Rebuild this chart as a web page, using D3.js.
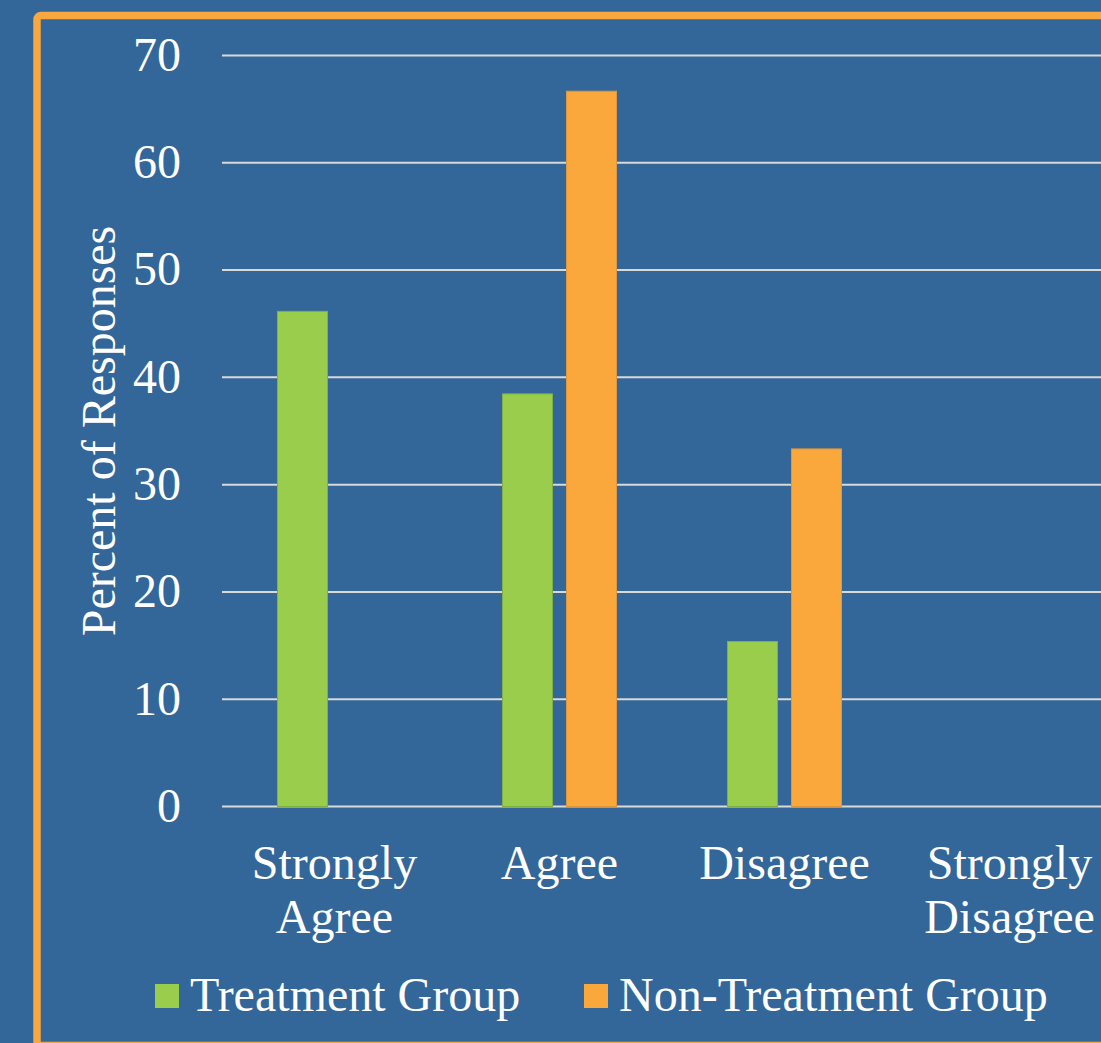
<!DOCTYPE html>
<html>
<head>
<meta charset="utf-8">
<script src="https://cdn.jsdelivr.net/npm/d3@7"></script>
<style>
  html, body { margin: 0; padding: 0; background: #336699; overflow: hidden; }
  svg { display: block; }
  text { font-family: "Liberation Serif", "Times New Roman", serif; fill: #ffffff; }
</style>
</head>
<body>
<svg id="chart" width="1101" height="1043"></svg>
<script>
// Survey responses, percent of each group
const categories = [["Strongly", "Agree"], ["Agree"], ["Disagree"], ["Strongly", "Disagree"]];
const seriesNames = ["Treatment Group", "Non-Treatment Group"];
const treatment = [46.15, 38.46, 15.38, 0];
const nonTreatment = [0, 66.67, 33.33, 0];
const yTicks = [0, 10, 20, 30, 40, 50, 60, 70];
const colors = ["#9BCD4C", "#FAA73B"];
const strokes = ["#7FB046", "#E0963A"];

const W = 1101, H = 1043;
const svg = d3.select("#chart");

// background and orange frame
svg.append("rect").attr("width", W).attr("height", H).attr("fill", "#336699");
svg.append("rect")
  .attr("x", 37).attr("y", 15.5)
  .attr("width", 1200).attr("height", 1030)
  .attr("rx", 4)
  .attr("fill", "none")
  .attr("stroke", "#F9A73E")
  .attr("stroke-width", 7.5);

const plotLeft = 222, plotRight = 1122, plotTop = 55.5, plotBottom = 806.5;

const y = d3.scaleLinear().domain([0, 70]).range([plotBottom, plotTop]);
const x0 = d3.scaleBand().domain(d3.range(categories.length)).range([plotLeft, plotRight]).padding(0);
const half = 57;
const x1 = d3.scaleBand().domain(d3.range(seriesNames.length))
  .range([x0.bandwidth() / 2 - half, x0.bandwidth() / 2 + half])
  .paddingInner(14 / 64).paddingOuter(0);

// gridlines
svg.append("g")
  .selectAll("line")
  .data(yTicks)
  .join("line")
  .attr("x1", plotLeft).attr("x2", plotRight)
  .attr("y1", d => y(d)).attr("y2", d => y(d))
  .attr("stroke", "#D9D9D9")
  .attr("stroke-width", 2);

// y tick labels
svg.append("g")
  .selectAll("text")
  .data(yTicks)
  .join("text")
  .attr("x", 181)
  .attr("y", d => y(d))
  .attr("dy", "0.32em")
  .attr("text-anchor", "end")
  .attr("font-size", 48)
  .text(d => d);

// y axis title
svg.append("text")
  .attr("transform", `translate(115, ${(plotTop + plotBottom) / 2}) rotate(-90)`)
  .attr("text-anchor", "middle")
  .attr("font-size", 48)
  .text("Percent of Responses");

// bars
const series = [treatment, nonTreatment];
const groups = svg.append("g")
  .selectAll("g")
  .data(categories.map((c, i) => i))
  .join("g")
  .attr("transform", i => `translate(${x0(i)},0)`);

groups.selectAll("rect")
  .data(i => series.map((s, k) => ({ k, v: s[i] })).filter(d => d.v > 0))
  .join("rect")
  .attr("x", d => x1(d.k))
  .attr("width", x1.bandwidth())
  .attr("y", d => y(d.v))
  .attr("height", d => y(0) - y(d.v))
  .attr("fill", d => colors[d.k])
  .attr("stroke", d => strokes[d.k])
  .attr("stroke-width", 1);

// category labels
const catLabels = svg.append("g")
  .selectAll("text")
  .data(categories)
  .join("text")
  .attr("text-anchor", "middle")
  .attr("font-size", 48)
  .attr("x", (d, i) => x0(i) + x0.bandwidth() / 2)
  .attr("y", 879);
catLabels.selectAll("tspan")
  .data(d => d)
  .join("tspan")
  .attr("x", function () { return d3.select(this.parentNode).attr("x"); })
  .attr("dy", (d, j) => j === 0 ? 0 : 54)
  .text(d => d);

// legend
const legendItems = [
  { name: seriesNames[0], color: colors[0], x: 155 },
  { name: seriesNames[1], color: colors[1], x: 584 }
];
const lg = svg.append("g")
  .selectAll("g")
  .data(legendItems)
  .join("g")
  .attr("transform", d => `translate(${d.x},0)`);
lg.append("rect")
  .attr("x", 0).attr("y", 984)
  .attr("width", 24).attr("height", 24)
  .attr("fill", d => d.color);
lg.append("text")
  .attr("x", 35).attr("y", 1011)
  .attr("font-size", 48)
  .text(d => d.name);
</script>
</body>
</html>
